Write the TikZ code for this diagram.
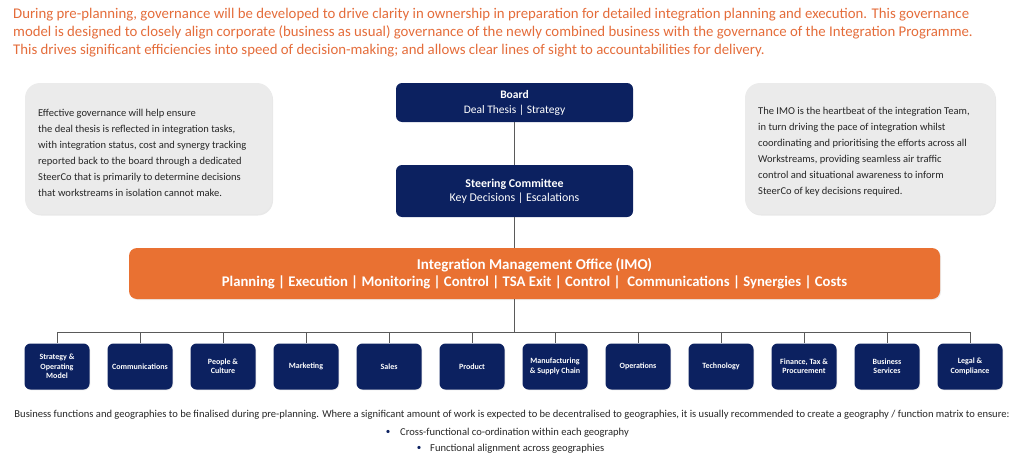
\documentclass[tikz,border=0pt]{standalone}
\usepackage{fontspec}
\setmainfont{Carlito}
\usetikzlibrary{shadows}
\definecolor{navy}{HTML}{0C2160}
\definecolor{imoorange}{HTML}{E97132}
\definecolor{toptext}{HTML}{E46C3A}
\definecolor{greybox}{HTML}{EBEBEB}
\definecolor{linegrey}{HTML}{5A5A5A}
\definecolor{bodytext}{HTML}{262626}
\begin{document}
\begin{tikzpicture}[x=1pt,y=-1pt,
  toptxt/.style={anchor=base west, inner sep=0pt, text=toptext, font=\fontsize{14.8}{17}\selectfont},
  greyrect/.style={draw=none, fill=greybox, rounded corners=15pt, drop shadow={opacity=0.18, shadow xshift=1pt, shadow yshift=-1.5pt}},
  greytxt/.style={anchor=west, align=left, inner sep=0pt, text=bodytext, font=\fontsize{10.5}{16}\selectfont},
  bigbox/.style={fill=navy, rounded corners=6pt, text=white, align=center, minimum width=237pt, inner sep=0pt},
  imobox/.style={fill=imoorange, rounded corners=8pt, text=white, align=center, minimum width=811pt, minimum height=51pt, inner sep=0pt, drop shadow={opacity=0.15, shadow xshift=1pt, shadow yshift=-1pt}},
  wsbox/.style={fill=navy, rounded corners=6pt, text=white, align=center, minimum width=65pt, minimum height=46pt, inner sep=0pt, font=\bfseries\fontsize{8}{9.4}\selectfont, drop shadow={opacity=0.15, shadow xshift=0.8pt, shadow yshift=-0.8pt}},
  conn/.style={draw=linegrey, line width=0.9pt},
  bottxt/.style={anchor=base, inner sep=0pt, text=bodytext, font=\fontsize{10.55}{12}\selectfont},
]
\useasboundingbox (0,0) rectangle (1024,463);

% top paragraph
\node[toptxt] (t1) at (13,18.5) {During pre-planning, governance will be developed to drive clarity in ownership in preparation for detailed integration planning and execution. This governance};
\node[toptxt] (t2) at (13,36.5) {model is designed to closely align corporate (business as usual) governance of the newly combined business with the governance of the Integration Programme.};
\node[toptxt] (t3) at (13,54.5) {This drives significant efficiencies into speed of decision-making; and allows clear lines of sight to accountabilities for delivery.};

% grey side boxes
\path[greyrect] (25,83) rectangle (272,214);
\node[greytxt] (ltxt) at (38,152.5) {Effective governance will help ensure\\the deal thesis is reflected in integration tasks,\\with integration status, cost and synergy tracking\\reported back to the board through a dedicated\\SteerCo that is primarily to determine decisions\\that workstreams in isolation cannot make.};
\path[greyrect] (745,83) rectangle (995,214);
\node[greytxt] (rtxt) at (758,151.5) {The IMO is the heartbeat of the integration Team,\\in turn driving the pace of integration whilst\\coordinating and prioritising the efforts across all\\Workstreams, providing seamless air traffic\\control and situational awareness to inform\\SteerCo of key decisions required.};

% central hierarchy
\node[bigbox, minimum height=39pt] (board) at (514.5,102.5) {{\bfseries\fontsize{11.5}{14}\selectfont Board}\\[3pt]{\fontsize{11.5}{14}\selectfont Deal Thesis | Strategy}};
\node[bigbox, minimum height=52pt] (steer) at (514.5,191) {{\bfseries\fontsize{11.9}{14}\selectfont Steering Committee}\\[2pt]{\fontsize{11.9}{14}\selectfont Key Decisions | Escalations}};
\node[imobox] (imo) at (534.5,273.5) {{\bfseries\fontsize{15}{18}\selectfont Integration Management Office (IMO)}\\[3pt]{\bfseries\fontsize{14.7}{18}\selectfont Planning | Execution | Monitoring | Control | TSA Exit | Control |~~Communications | Synergies | Costs}};

\draw[conn] (board.south) -- (steer.north);
\draw[conn] (steer.south) -- (steer.south |- imo.north);

% workstreams
\foreach \i/\nm/\lbl in {0/ws1/{Strategy \&\\Operating\\Model},1/ws2/{Communications},2/ws3/{People \&\\Culture},3/ws4/{Marketing},4/ws5/{Sales},5/ws6/{Product},6/ws7/{Manufacturing\\\& Supply Chain},7/ws8/{Operations},8/ws9/{Technology},9/ws10/{Finance, Tax \&\\Procurement},10/ws11/{Business\\Services},11/ws12/{Legal \&\\Compliance}}{
  \node[wsbox] (\nm) at (57+83*\i,366.5) {\lbl};
}
\coordinate (busL) at (57,332);
\coordinate (busR) at (970,332);
\coordinate (busM) at (514.5,332);
\draw[conn] (steer.south |- imo.south) -- (busM);
\draw[conn] (ws1.north |- busL) -- (ws12.north |- busR);
\foreach \nm in {ws1,ws2,ws3,ws4,ws5,ws6,ws7,ws8,ws9,ws10,ws11,ws12}{
  \draw[conn] (\nm.north |- busL) -- (\nm.north);
}

% bottom note
\node[bottxt] (b1) at (512,417) {Business functions and geographies to be finalised during pre-planning. Where a significant amount of work is expected to be decentralised to geographies, it is usually recommended to create a geography / function matrix to ensure:};
\node[anchor=base, inner sep=0pt, text=navy, font=\fontsize{9}{10}\selectfont] (bul1) at (388,434) {•};
\node[anchor=base west, inner sep=0pt, text=bodytext, font=\fontsize{10.55}{12}\selectfont] (b2) at (400,435) {Cross-functional co-ordination within each geography};
\node[anchor=base, inner sep=0pt, text=navy, font=\fontsize{9}{10}\selectfont] (bul2) at (419,450) {•};
\node[anchor=base west, inner sep=0pt, text=bodytext, font=\fontsize{10.55}{12}\selectfont] (b3) at (430,451) {Functional alignment across geographies};
\end{tikzpicture}
\end{document}
